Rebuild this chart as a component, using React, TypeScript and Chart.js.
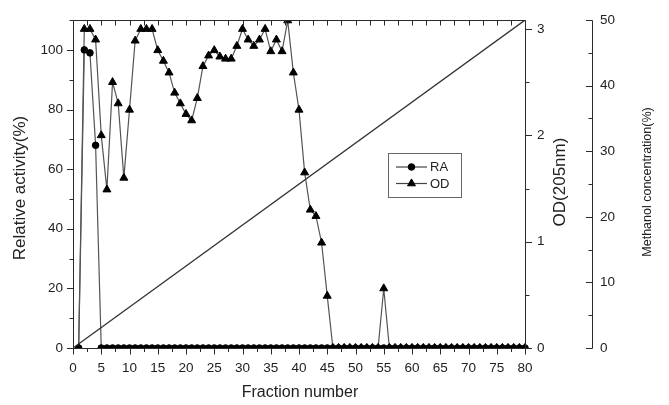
import { useEffect, useRef } from 'react';
import { Chart, registerables } from 'chart.js';

Chart.register(...registerables);

const fractions = [
  1, 2, 3, 4, 5, 6, 7, 8, 9, 10,
  11, 12, 13, 14, 15, 16, 17, 18, 19, 20,
  21, 22, 23, 24, 25, 26, 27, 28, 29, 30,
  31, 32, 33, 34, 35, 36, 37, 38, 39, 40,
  41, 42, 43, 44, 45, 46, 47, 48, 49, 50,
  51, 52, 53, 54, 55, 56, 57, 58, 59, 60,
  61, 62, 63, 64, 65, 66, 67, 68, 69, 70,
  71, 72, 73, 74, 75, 76, 77, 78, 79, 80,
];

const raValues = [
  0, 100, 99, 68, 0, 0, 0, 0, 0, 0,
  0, 0, 0, 0, 0, 0, 0, 0, 0, 0,
  0, 0, 0, 0, 0, 0, 0, 0, 0, 0,
  0, 0, 0, 0, 0, 0, 0, 0, 0, 0,
  0, 0, 0, 0, 0, 0, 0, 0, 0, 0,
  0, 0, 0, 0, 0, 0, 0, 0, 0, 0,
  0, 0, 0, 0, 0, 0, 0, 0, 0, 0,
  0, 0, 0, 0, 0, 0, 0, 0, 0, 0,
];

const odValues = [
  0, 3.0, 3.0, 2.9, 2.0, 1.49, 2.5, 2.3, 1.6, 2.24,
  2.89, 3.0, 3.0, 3.0, 2.8, 2.7, 2.59, 2.4, 2.3, 2.2,
  2.14, 2.35, 2.65, 2.75, 2.8, 2.74, 2.72, 2.72, 2.84, 3.0,
  2.9, 2.84, 2.9, 3.0, 2.79, 2.9, 2.79, 3.08, 2.59, 2.24,
  1.65, 1.3, 1.24, 0.99, 0.49, 0, 0, 0, 0, 0,
  0, 0, 0, 0, 0.56, 0, 0, 0, 0, 0,
  0, 0, 0, 0, 0, 0, 0, 0, 0, 0,
  0, 0, 0, 0, 0, 0, 0, 0, 0, 0,
];

const methanolFractions = [0, 80];
const methanolValues = [0, 50];

const xTicks = [0, 5, 10, 15, 20, 25, 30, 35, 40, 45, 50, 55, 60, 65, 70, 75, 80];
const raTicks = [0, 20, 40, 60, 80, 100];
const odTicks = [0, 1, 2, 3];
const methanolTicks = [0, 10, 20, 30, 40, 50];

const FONT = '"Liberation Sans", Arial, sans-serif';
const AXIS = '#2a2a2a';
const TEXT = '#222';

const decorPlugin = {
  id: 'decor',
  afterDraw(chart: any) {
    const ctx = chart.ctx as CanvasRenderingContext2D;
    const ca = chart.chartArea;
    const L = Math.round(ca.left) + 0.5;
    const R = Math.round(ca.right) + 0.5;
    const T = Math.round(ca.top) + 0.5;
    const B = Math.round(ca.bottom) + 0.5;
    const sx = chart.scales.x;
    const sy = chart.scales.y;
    const so = chart.scales.od;
    const sm = chart.scales.me;
    const M = Math.round(sm.left) + 0.5;

    const line = (x1: number, y1: number, x2: number, y2: number) => {
      ctx.beginPath();
      ctx.moveTo(x1, y1);
      ctx.lineTo(x2, y2);
      ctx.stroke();
    };

    ctx.save();
    ctx.strokeStyle = AXIS;
    ctx.lineWidth = 1;
    // frame
    line(L, T, R, T);
    line(L, B, R, B);
    line(L, T, L, B);
    line(R, T, R, B);
    line(M, T, M, B);

    // x ticks (bottom outward, top inward)
    for (let v = 0; v <= 80; v += 2.5) {
      const px = Math.round(sx.getPixelForValue(v)) + 0.5;
      const major = v % 5 === 0;
      line(px, B, px, B + (major ? 6 : 3.5));
      line(px, T, px, T + 5);
    }
    // left ticks
    for (let v = 0; v <= 110; v += 10) {
      const py = Math.round(sy.getPixelForValue(v)) + 0.5;
      const major = v % 20 === 0;
      line(L - (major ? 6.5 : 4), py, L, py);
    }
    // OD ticks (outward right)
    for (let v = 0; v <= 3; v += 0.5) {
      const py = Math.round(so.getPixelForValue(v)) + 0.5;
      const major = Math.abs(v - Math.round(v)) < 1e-6;
      line(R, py, R + (major ? 6.5 : 4), py);
    }
    // methanol ticks (pointing left)
    for (let v = 0; v <= 50; v += 5) {
      const py = Math.round(sm.getPixelForValue(v)) + 0.5;
      const major = v % 10 === 0;
      line(M - (major ? 6.5 : 4), py, M, py);
    }

    // axis titles
    ctx.fillStyle = TEXT;
    ctx.textAlign = 'center';
    ctx.textBaseline = 'middle';
    ctx.font = `16px ${FONT}`;
    ctx.fillText('Fraction number', 300, 393);

    const vtext = (t: string, x: number, y: number, size: number) => {
      ctx.save();
      ctx.translate(x, y);
      ctx.rotate(-Math.PI / 2);
      ctx.font = `${size}px ${FONT}`;
      ctx.fillText(t, 0, 0);
      ctx.restore();
    };
    vtext('Relative activity(%)', 20, 188, 17);
    vtext('OD(205nm)', 560, 182, 17);
    vtext('Methanol concentration(%)', 648, 182, 12.5);

    // legend
    const bx = 388.5, by = 153.5, bw = 73, bh = 44;
    ctx.strokeStyle = '#666';
    ctx.lineWidth = 1;
    ctx.strokeRect(bx, by, bw, bh);
    const entries = [
      { label: 'RA', y: 167, style: 'circle', r: 3.3 },
      { label: 'OD', y: 183.5, style: 'triangle', r: 4.6 },
    ];
    ctx.font = `13px ${FONT}`;
    ctx.textAlign = 'left';
    entries.forEach((e) => {
      ctx.strokeStyle = '#444';
      ctx.lineWidth = 1.2;
      line(396, e.y, 427, e.y);
      ctx.fillStyle = '#000';
      ctx.strokeStyle = '#000';
      ctx.lineWidth = 1;
      ctx.beginPath();
      if (e.style === 'circle') {
        ctx.arc(411.5, e.y, e.r, 0, Math.PI * 2);
      } else {
        ctx.moveTo(411.5, e.y - e.r);
        ctx.lineTo(411.5 + e.r * 0.866, e.y + e.r * 0.5);
        ctx.lineTo(411.5 - e.r * 0.866, e.y + e.r * 0.5);
        ctx.closePath();
      }
      ctx.fill();
      ctx.stroke();
      ctx.fillStyle = TEXT;
      ctx.fillText(e.label, 430, e.y + 0.5);
    });
    ctx.restore();
  },
};

export default function App() {
  const ref = useRef<HTMLCanvasElement | null>(null);

  useEffect(() => {
    document.body.style.margin = '0';
    if (!ref.current) return;
    const raData = fractions.map((f, i) => ({ x: f, y: raValues[i] }));
    const odData = fractions.map((f, i) => ({ x: f, y: odValues[i] }));
    const meData = methanolFractions.map((f, i) => ({ x: f, y: methanolValues[i] }));
    const tickFont = { family: FONT, size: 13.5 };

    const chart = new Chart(ref.current, {
      type: 'line',
      data: {
        datasets: [
          {
            label: 'Methanol',
            data: meData,
            yAxisID: 'me',
            borderColor: '#333',
            borderWidth: 1.3,
            pointRadius: 0,
            fill: false,
          },
          {
            label: 'RA',
            data: raData,
            yAxisID: 'y',
            borderColor: '#555',
            borderWidth: 1.2,
            pointStyle: 'circle',
            pointRadius: 3.3,
            pointBackgroundColor: '#000',
            pointBorderColor: '#000',
            pointBorderWidth: 1,
            fill: false,
            clip: { left: 6, right: 6, top: 0, bottom: 0 },
          },
          {
            label: 'OD',
            data: odData,
            yAxisID: 'od',
            borderColor: '#555',
            borderWidth: 1.2,
            pointStyle: 'triangle',
            pointRadius: 4.6,
            pointBackgroundColor: '#000',
            pointBorderColor: '#000',
            pointBorderWidth: 1,
            fill: false,
            clip: { left: 6, right: 6, top: 0, bottom: 0 },
          },
        ],
      },
      options: {
        animation: false,
        responsive: false,
        events: [],
        layout: { padding: { top: 16, left: 0, right: 0, bottom: 0 } },
        plugins: {
          legend: { display: false },
          tooltip: { enabled: false },
        },
        scales: {
          x: {
            type: 'linear',
            min: 0,
            max: 80,
            grid: { display: false, drawTicks: false },
            border: { display: false },
            afterBuildTicks: (s: any) => {
              s.ticks = xTicks.map((v) => ({ value: v }));
            },
            afterFit: (s: any) => {
              s.height = 57;
            },
            ticks: { font: tickFont, color: TEXT, padding: 12, maxRotation: 0, autoSkip: false },
          },
          y: {
            type: 'linear',
            position: 'left',
            min: 0,
            max: 110,
            grid: { display: false, drawTicks: false },
            border: { display: false },
            afterBuildTicks: (s: any) => {
              s.ticks = raTicks.map((v) => ({ value: v }));
            },
            afterFit: (s: any) => {
              s.width = 73;
            },
            ticks: { font: tickFont, color: TEXT, padding: 10 },
          },
          od: {
            type: 'linear',
            position: 'right',
            weight: 0,
            min: 0,
            max: 3.084,
            grid: { display: false, drawTicks: false },
            border: { display: false },
            afterBuildTicks: (s: any) => {
              s.ticks = odTicks.map((v) => ({ value: v }));
            },
            afterFit: (s: any) => {
              s.width = 67;
            },
            ticks: { font: tickFont, color: TEXT, padding: 12 },
          },
          me: {
            type: 'linear',
            position: 'right',
            weight: 1,
            min: 0,
            max: 50,
            grid: { display: false, drawTicks: false },
            border: { display: false },
            afterBuildTicks: (s: any) => {
              s.ticks = methanolTicks.map((v) => ({ value: v }));
            },
            afterFit: (s: any) => {
              s.width = 77;
            },
            ticks: { font: tickFont, color: TEXT, padding: 8 },
          },
        },
      },
      plugins: [decorPlugin],
    } as any);

    return () => {
      chart.destroy();
    };
  }, []);

  return (
    <div style={{ position: 'fixed', left: 0, top: 0, width: 669, height: 405, background: '#fff' }}>
      <canvas ref={ref} width={669} height={405} style={{ display: 'block' }} />
    </div>
  );
}
